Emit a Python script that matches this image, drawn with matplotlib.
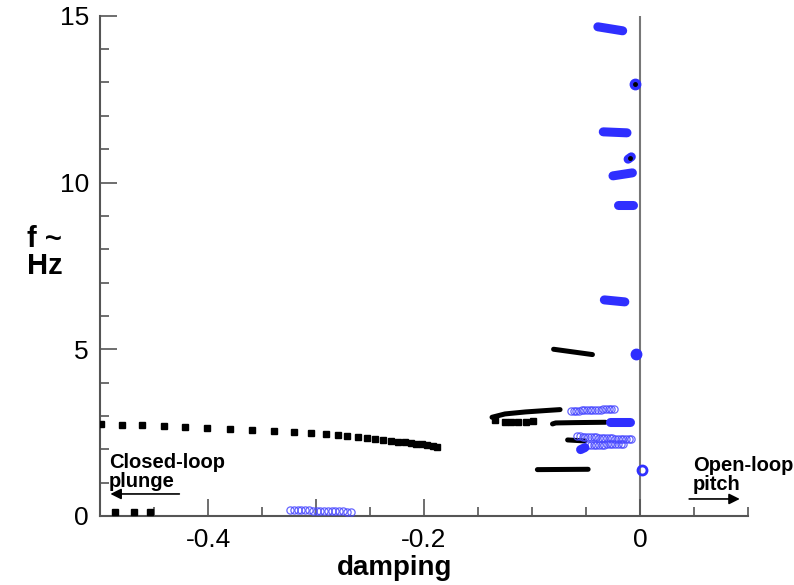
import matplotlib

matplotlib.use("Agg")

import matplotlib.pyplot as plt
from matplotlib.ticker import FixedLocator, FixedFormatter

plt.rcParams["font.family"] = ["Liberation Sans", "DejaVu Sans"]

BLUE = "#2f2fff"
HOLLOW = "#4a4aff"

# closed-loop plunge branch (black squares)
plunge_x = [-0.499, -0.480, -0.461, -0.441, -0.421, -0.401, -0.380, -0.359, -0.339,
            -0.320, -0.305, -0.291, -0.280, -0.271, -0.261, -0.253, -0.245, -0.238,
            -0.231, -0.224, -0.218, -0.212, -0.207, -0.202, -0.197, -0.192, -0.188]
plunge_f = [2.76, 2.74, 2.72, 2.70, 2.68, 2.65, 2.62, 2.59, 2.56,
            2.52, 2.49, 2.46, 2.42, 2.39, 2.36, 2.33, 2.30, 2.28,
            2.26, 2.23, 2.21, 2.19, 2.17, 2.15, 2.13, 2.10, 2.08]
low_sq_x = [-0.486, -0.469, -0.454]
low_sq_f = [0.12, 0.12, 0.12]
cres_sq_x = [-0.134, -0.125, -0.119, -0.113, -0.106, -0.099]
cres_sq_f = [2.89, 2.82, 2.82, 2.82, 2.82, 2.84]

# black solid segments
black_lines = [
    ([-0.137, -0.125, -0.106, -0.088, -0.074], [2.96, 3.06, 3.12, 3.16, 3.19]),
    ([-0.081, -0.078, -0.060, -0.032], [2.76, 2.79, 2.80, 2.81]),
    ([-0.080, -0.062, -0.044], [5.00, 4.92, 4.84]),
    ([-0.067, -0.051], [2.28, 2.25]),
    ([-0.095, -0.048], [1.39, 1.40]),
]

# blue filled bars (open-loop pitch, dense filled circles)
blue_bars = [
    ([-0.039, -0.016], [14.67, 14.55]),
    ([-0.034, -0.012], [11.52, 11.49]),
    ([-0.025, -0.007], [10.20, 10.29]),
    ([-0.020, -0.006], [9.33, 9.33]),
    ([-0.033, -0.014], [6.48, 6.42]),
    ([-0.028, -0.009], [2.82, 2.82]),
    ([-0.011, -0.008], [10.70, 10.77]),
    ([-0.055, -0.051], [1.99, 2.05]),
]
blue_dots_x = [-0.005, -0.004]
blue_dots_f = [12.96, 4.86]
black_centres_x = [-0.005, -0.009]
black_centres_f = [12.96, 10.74]

# blue hollow circle rows
row_a_x = [-0.064, -0.0615, -0.059, -0.0565, -0.054, -0.0515, -0.049, -0.0465, -0.044,
           -0.0415, -0.039, -0.0365, -0.034, -0.0315, -0.029, -0.0265, -0.024]
row_a_f = [3.15, 3.153, 3.157, 3.16, 3.164, 3.168, 3.172, 3.176, 3.18,
           3.184, 3.188, 3.192, 3.196, 3.20, 3.203, 3.206, 3.21]
row_b_x = [-0.058, -0.0555, -0.053, -0.0505, -0.048, -0.0455, -0.043, -0.0405, -0.038,
           -0.0355, -0.033, -0.0305, -0.028, -0.0255, -0.023, -0.0205, -0.018, -0.0155,
           -0.013, -0.0105, -0.008]
row_b_f = [2.39, 2.385, 2.38, 2.375, 2.37, 2.365, 2.36, 2.355, 2.35,
           2.345, 2.34, 2.335, 2.33, 2.325, 2.32, 2.315, 2.31, 2.31,
           2.305, 2.30, 2.30]
row_c_x = [-0.048, -0.0455, -0.043, -0.0405, -0.038, -0.0355, -0.033, -0.0305, -0.028,
           -0.0255, -0.023, -0.0205, -0.018, -0.016]
row_c_f = [2.13, 2.132, 2.134, 2.136, 2.138, 2.14, 2.142, 2.145, 2.148,
           2.15, 2.152, 2.155, 2.158, 2.16]
row_d_x = [-0.324, -0.3205, -0.317, -0.3135, -0.310, -0.3065, -0.303, -0.2995, -0.296,
           -0.2925, -0.289, -0.2855, -0.282, -0.2785, -0.275, -0.2715, -0.268]
row_d_f = [0.18, 0.177, 0.174, 0.171, 0.168, 0.165, 0.162, 0.159, 0.156,
           0.153, 0.15, 0.147, 0.144, 0.141, 0.138, 0.134, 0.13]
open_ring_x = [0.002]
open_ring_f = [1.38]

x_major = [-0.4, -0.3, -0.2, 0.0]
x_minor = [-0.45, -0.35, -0.25, -0.15, -0.1, -0.05, 0.05, 0.1]
x_labels = ["-0.4", "", "-0.2", "0"]
y_major = [0, 5, 10, 15]
y_minor = [1, 2, 3, 4, 6, 7, 8, 9, 11, 12, 13, 14]


def main():
    fig = plt.figure(figsize=(7.94, 5.85), dpi=100)
    ax = fig.add_axes([0.126, 0.118, 0.816, 0.855])

    ax.axvline(0.0, color="#777777", lw=1.5, zorder=1)

    ax.plot(plunge_x, plunge_f, "s", color="black", ms=3.8, zorder=3)
    ax.plot(low_sq_x, low_sq_f, "s", color="black", ms=3.8, zorder=3)
    ax.plot(cres_sq_x, cres_sq_f, "s", color="black", ms=3.8, zorder=3)

    for xs, fs in black_lines:
        ax.plot(xs, fs, color="black", lw=3.6, solid_capstyle="round", zorder=3)

    for xs, fs in [(row_a_x, row_a_f), (row_b_x, row_b_f), (row_c_x, row_c_f), (row_d_x, row_d_f)]:
        ax.plot(xs, fs, "o", mfc="none", mec=HOLLOW, ms=5.2, mew=0.9, alpha=0.85, zorder=4)

    for xs, fs in blue_bars:
        ax.plot(xs, fs, color=BLUE, lw=6.5, solid_capstyle="round", zorder=5)
    ax.plot(blue_dots_x, blue_dots_f, "o", color=BLUE, ms=7.5, zorder=5)
    ax.plot(black_centres_x, black_centres_f, "o", color="black", ms=2.5, zorder=6)
    ax.plot(open_ring_x, open_ring_f, "o", mfc="none", mec=BLUE, ms=6.5, mew=2, zorder=5)

    ax.set_xlim(-0.5, 0.1)
    ax.set_ylim(0, 15)

    for side in ["top", "right"]:
        ax.spines[side].set_visible(False)
    for side in ["left", "bottom"]:
        ax.spines[side].set_color("#555555")
        ax.spines[side].set_linewidth(1.5)

    ax.xaxis.set_major_locator(FixedLocator(x_major))
    ax.xaxis.set_major_formatter(FixedFormatter(x_labels))
    ax.xaxis.set_minor_locator(FixedLocator(x_minor))
    ax.yaxis.set_major_locator(FixedLocator(y_major))
    ax.yaxis.set_minor_locator(FixedLocator(y_minor))

    ax.tick_params(which="both", direction="in", color="#555555", width=1.2, labelsize=19)
    ax.tick_params(which="major", length=12, pad=8)
    ax.tick_params(axis="x", which="major", pad=9)
    ax.tick_params(which="minor", length=6.5)

    ax.set_xlabel("damping", fontsize=20, fontweight="bold")
    ax.xaxis.set_label_coords(0.454, -0.079)
    fig.text(0.034, 0.568, "f ~\nHz", fontsize=21, fontweight="bold",
             ha="left", va="center", linespacing=0.95)

    ax.text(-0.492, 1.33, "Closed-loop\nplunge", fontsize=14.5, fontweight="bold",
            ha="left", va="center", linespacing=1.0)
    ax.annotate("", xy=(-0.493, 0.66), xytext=(-0.424, 0.66),
                arrowprops=dict(arrowstyle="-|>", color="black", lw=1.2, mutation_scale=16))
    ax.text(0.049, 1.24, "Open-loop\npitch", fontsize=14.5, fontweight="bold",
            ha="left", va="center", linespacing=1.0, clip_on=False)
    ax.annotate("", xy=(0.095, 0.51), xytext=(0.043, 0.51),
                arrowprops=dict(arrowstyle="-|>", color="black", lw=1.2, mutation_scale=16),
                annotation_clip=False)

    fig.savefig("out.png", dpi=100)
    plt.close(fig)


if __name__ == "__main__":
    main()
